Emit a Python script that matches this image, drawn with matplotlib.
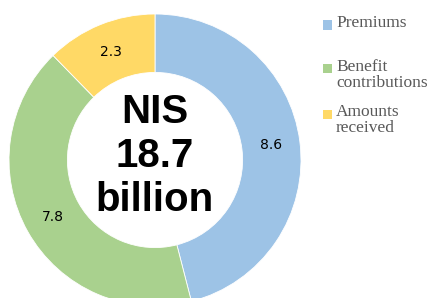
import matplotlib
matplotlib.use("Agg")
import matplotlib.pyplot as plt
import numpy as np

# data
categories = ["Premiums", "Benefit\ncontributions", "Amounts\nreceived"]
values = [8.6, 7.8, 2.3]
colors = ["#9DC3E6", "#A9D18E", "#FFD966"]
center_text = "NIS\n18.7\nbillion"

W, H = 433, 298
fig = plt.figure(figsize=(W / 100, H / 100), dpi=100)

# donut axes placed in pixel units: centre (155, 160 from top), radius 146
cx, cy, r = 155, H - 160, 146
ax = fig.add_axes([(cx - r) / W, (cy - r) / H, 2 * r / W, 2 * r / H])
wedges, _ = ax.pie(values, colors=colors, startangle=90, counterclock=False,
                   radius=1, wedgeprops=dict(width=0.4, edgecolor="white", linewidth=0.6))
ax.set_xlim(-1, 1)
ax.set_ylim(-1, 1)
ax.set_aspect("equal")
ax.axis("off")

# value labels at mid-angle of each wedge
for w, v in zip(wedges, values):
    ang = np.deg2rad((w.theta1 + w.theta2) / 2)
    ax.text(0.8 * np.cos(ang), 0.8 * np.sin(ang), f"{v:.1f}", ha="center", va="center",
            fontsize=10, family="DejaVu Sans", color="black")

ax.text(0, 0.03, center_text, ha="center", va="center", fontsize=29, fontweight="bold",
        family="Liberation Sans", linespacing=1.2, color="black")

# legend, first-line centres in pixels from top
leg_y = [25, 69, 114]
for lab, col, y in zip(categories, colors, leg_y):
    fig.patches.append(plt.Rectangle((323 / W, (H - y - 4.5) / H), 9 / W, 9 / H,
                                     transform=fig.transFigure,
                                     facecolor=col, edgecolor="none"))
    fig.text(336 / W, (H - y + 10) / H, lab, ha="left", va="top", fontsize=12.5,
             family="Liberation Serif", color="#595959", linespacing=1.0)

fig.savefig("out.png", dpi=100)
